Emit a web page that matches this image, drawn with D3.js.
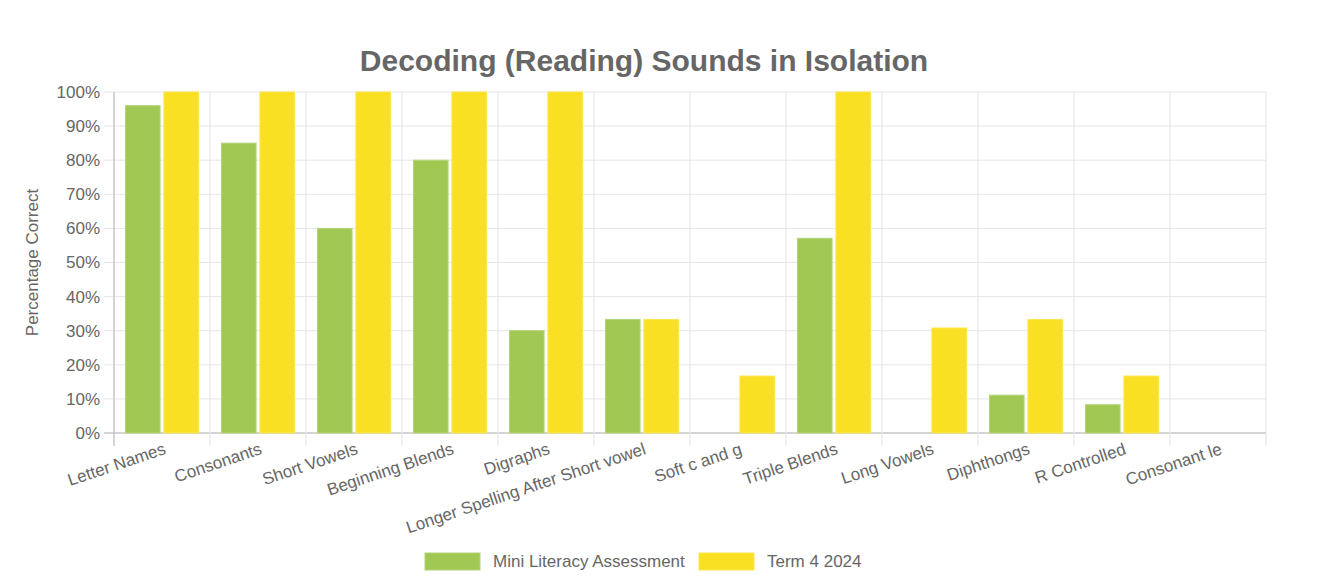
<!DOCTYPE html>
<html>
<head>
<meta charset="utf-8">
<script src="https://cdn.jsdelivr.net/npm/d3@7"></script>
<style>
  body { margin: 0; background: #fff; }
  text { font-family: "Liberation Sans", Arial, Helvetica, sans-serif; fill: #666; }
</style>
</head>
<body>
<svg id="chart" width="1324" height="588"></svg>
<script>
// data
var categories = ["Letter Names", "Consonants", "Short Vowels", "Beginning Blends", "Digraphs",
  "Longer Spelling After Short vowel", "Soft c and g", "Triple Blends", "Long Vowels",
  "Diphthongs", "R Controlled", "Consonant le"];
var seriesNames = ["Mini Literacy Assessment", "Term 4 2024"];
var miniLiteracy = [96, 85, 60, 80, 30, 33.3, 0, 57.1, 0, 11.1, 8.3, 0];
var term4 = [100, 100, 100, 100, 100, 33.3, 16.7, 100, 30.8, 33.3, 16.7, 0];
var yTicks = [0, 10, 20, 30, 40, 50, 60, 70, 80, 90, 100];
var colors = ["#a1c853", "#fae022"];
var borders = ["#b4d47a", "#fbe64f"];

var plotLeft = 114, plotRight = 1266, plotTop = 92, plotBottom = 433;

var svg = d3.select("#chart");

var x = d3.scaleBand().domain(categories).range([plotLeft, plotRight]).padding(0);
var bw = x.bandwidth();
var xSub = d3.scaleBand().domain(seriesNames).range([bw * 0.1, bw * 0.9]).padding(0);
var barW = xSub.bandwidth() * 0.9;
var y = d3.scaleLinear().domain([0, 100]).range([plotBottom, plotTop]);

// horizontal grid + y ticks
svg.append("g")
  .selectAll("line")
  .data(yTicks)
  .enter()
  .append("line")
    .attr("x1", plotLeft - 10)
    .attr("x2", plotRight)
    .attr("y1", function(d) { return y(d); })
    .attr("y2", function(d) { return y(d); })
    .attr("stroke", function(d) { return d === 0 ? "#c6c6c6" : "#e6e6e6"; })
    .attr("stroke-width", function(d) { return d === 0 ? 1.5 : 1; });

// vertical grid + x ticks
var edges = categories.map(function(c) { return x(c); }).concat([plotRight]);
svg.append("g")
  .selectAll("line")
  .data(edges)
  .enter()
  .append("line")
    .attr("x1", function(d) { return d; })
    .attr("x2", function(d) { return d; })
    .attr("y1", plotTop)
    .attr("y2", plotBottom + 13)
    .attr("stroke", function(d, i) { return i === 0 ? "#c6c6c6" : "#e3e3e3"; })
    .attr("stroke-width", function(d, i) { return i === 0 ? 1.5 : 1; });

// y tick labels
svg.append("g")
  .selectAll("text")
  .data(yTicks)
  .enter()
  .append("text")
    .text(function(d) { return d + "%"; })
    .attr("x", plotLeft - 14)
    .attr("y", function(d) { return y(d); })
    .attr("dy", "0.35em")
    .attr("text-anchor", "end")
    .style("font-size", "17px");

// bars
var series = [miniLiteracy, term4];
series.forEach(function(values, s) {
  svg.append("g")
    .selectAll("rect")
    .data(values)
    .enter()
    .append("rect")
      .attr("x", function(d, i) { return x(categories[i]) + xSub(seriesNames[s]) + xSub.bandwidth() * 0.05; })
      .attr("y", function(d) { return y(d); })
      .attr("width", barW)
      .attr("height", function(d) { return plotBottom - y(d); })
      .attr("fill", colors[s])
      .attr("stroke", function(d) { return d > 0 ? borders[s] : "none"; })
      .attr("stroke-width", 1);
});

// x labels, rotated
svg.append("g")
  .selectAll("text")
  .data(categories)
  .enter()
  .append("text")
    .text(function(d) { return d; })
    .attr("text-anchor", "end")
    .attr("transform", function(d) {
      return "translate(" + (x(d) + bw / 2 + 3) + "," + (plotBottom + 15) + ") rotate(-18.5)";
    })
    .attr("dy", "0.35em")
    .style("font-size", "17px");

// title
svg.append("text")
  .text("Decoding (Reading) Sounds in Isolation")
  .attr("x", 644)
  .attr("y", 71)
  .attr("text-anchor", "middle")
  .style("font-size", "30px")
  .style("font-weight", "bold");

// y axis title
svg.append("text")
  .text("Percentage Correct")
  .attr("transform", "translate(38," + ((plotTop + plotBottom) / 2) + ") rotate(-90)")
  .attr("text-anchor", "middle")
  .style("font-size", "17px");

// legend
var legendX = [425, 699];
var legend = svg.append("g")
  .selectAll("g")
  .data(seriesNames)
  .enter()
  .append("g")
    .attr("transform", function(d, i) { return "translate(" + legendX[i] + ",553)"; });
legend.append("rect")
  .attr("width", 55)
  .attr("height", 17)
  .attr("fill", function(d, i) { return colors[i]; })
  .attr("stroke", function(d, i) { return borders[i]; });
legend.append("text")
  .text(function(d) { return d; })
  .attr("x", 68)
  .attr("y", 8.5)
  .attr("dy", "0.35em")
  .style("font-size", "17px");
</script>
</body>
</html>
